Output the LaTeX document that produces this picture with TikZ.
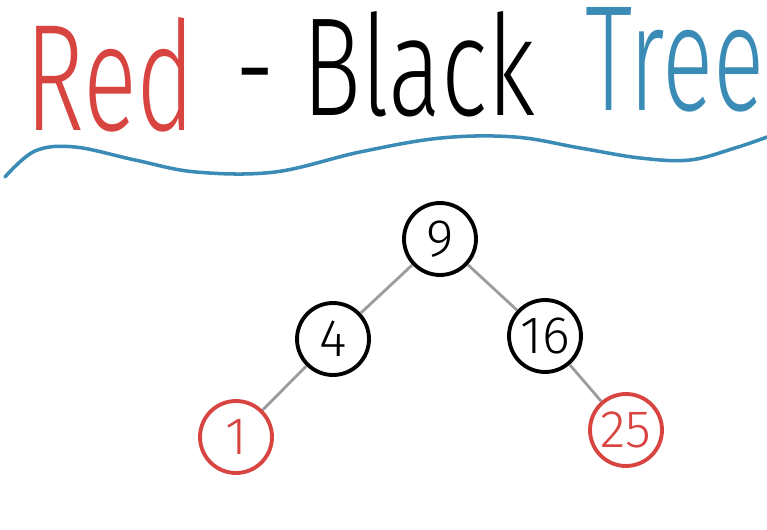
\documentclass[tikz,border=0pt]{standalone}
\usepackage{fontspec}
\usepackage{graphicx}
\newfontfamily\handfont{Fira Sans Light}
\definecolor{treered}{HTML}{D8443F}
\definecolor{treeblue}{HTML}{3A8CB6}
\definecolor{edgegray}{HTML}{9C9C9C}
\tikzset{
  rbnode/.style={circle,draw,line width=2.2pt,minimum size=1.44cm,inner sep=0pt,
    font=\handfont\fontsize{30}{30}\selectfont},
  rednode/.style={rbnode,draw=treered,text=treered},
  titleword/.style={inner sep=0pt,anchor=south west,font=\handfont},
}
\begin{document}
\begin{tikzpicture}[x=0.02cm,y=-0.02cm]

        \useasboundingbox (0,0) rectangle (767,530);
        \clip (0,0) rectangle (767,530);

        % title
        \node[titleword,text=treered] (red)   at (25,133)  {\resizebox{3.4cm}{2.26cm}{Red}};
        \node[titleword]              (black) at (235,117) {\resizebox{6cm}{2.08cm}{- Black}};
        \node[titleword,text=treeblue] (tree) at (585,113) {\resizebox{3.58cm}{2.06cm}{Tree}};

        \draw[treeblue,line width=2pt,line cap=round] plot[smooth,tension=0.6] coordinates
          {(5,177) (35,151) (75,147) (135,160) (196,172) (275,172) (360,152) (441,138)
           (515,137) (580,148) (640,158) (690,160) (735,148) (770,136)};

        \begin{scope}[every node/.style={rbnode}]
          \node (9)  at (440,239) {9};
          \node (4)  at (333,339) {4};
          \node (16) at (545,336) {16};
          \node[rednode] (1)  at (236,437) {1};
          \node[rednode] (25) at (626,430) {25};
        \end{scope}

        \begin{scope}[every edge/.style={draw,edgegray,line width=1.6pt}]
          \path (9)  edge (4);
          \path (9)  edge (16);
          \path (4)  edge (1);
          \path (16) edge (25);
        \end{scope}

      \end{tikzpicture}
\end{document}
